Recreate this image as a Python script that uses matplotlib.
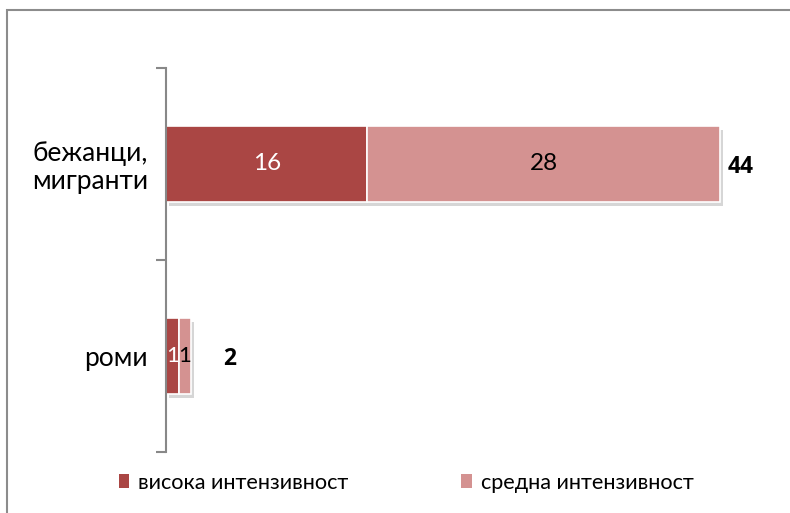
import matplotlib
matplotlib.use("Agg")
import matplotlib.pyplot as plt
import matplotlib.patheffects as pe
from matplotlib.patches import Rectangle

categories = ["бежанци,\nмигранти", "роми"]
series_names = ["висока интензивност", "средна интензивност"]
high = [16, 1]
medium = [28, 1]
totals = [h + m for h, m in zip(high, medium)]
colors = ["#AA4644", "#D49291"]
label_colors = ["white", "black"]
total_offsets = [8, 32]  # pixel offsets of total labels

plt.rcParams['font.family'] = ['Lato', 'DejaVu Sans']

fig = plt.figure(figsize=(7.9, 5.13), dpi=100)
ax = fig.add_axes([166/790, 1-452/513, (745-166)/790, (452-68)/513])

ypos = list(range(len(categories)))
shadow = [pe.SimplePatchShadow(offset=(2, -3), shadow_rgbFace="#999999", alpha=0.4), pe.Normal()]
left = [0]*len(categories)
for vals, col, lc, name in zip([high, medium], colors, label_colors, series_names):
    bars = ax.barh(ypos, vals, left=left, height=0.395, color=col, edgecolor="white",
                   linewidth=1.2, label=name)
    for b in bars:
        b.set_path_effects(shadow)
    for y, v, l in zip(ypos, vals, left):
        ax.text(l + v/2, y, str(v), ha="center", va="center", color=lc,
                fontsize=17.5 if v > 1 else 16)
    left = [l + v for l, v in zip(left, vals)]

for y, t, off in zip(ypos, totals, total_offsets):
    ax.annotate(str(t), (t, y), xytext=(off*0.72, -2), textcoords="offset points",
                ha="left", va="center", fontsize=16.5, fontweight="bold", color="black",
                family=["Open Sans", "DejaVu Sans"])

ax.set_xlim(0, 46)
ax.set_ylim(len(categories)-0.5, -0.5)
ax.set_yticks(ypos)
ax.set_yticklabels(categories, fontsize=19, linespacing=1.1)
ax.tick_params(axis="y", which="major", length=0, pad=13)
ax.set_yticks([-0.5, 0.5, 1.5], minor=True)
ax.tick_params(axis="y", which="minor", length=7, width=1.5, color="#888888", direction="out")
ax.set_xticks([])
for s in ["top", "right", "bottom"]:
    ax.spines[s].set_visible(False)
ax.spines["left"].set_color("#888888")
ax.spines["left"].set_linewidth(1.5)

handles, labels = ax.get_legend_handles_labels()
leg = fig.legend(handles, labels, loc="center", bbox_to_anchor=(406/790, 1-483/513), ncol=2,
                 frameon=False, fontsize=15.6, handlelength=0.5, handleheight=0.6,
                 handletextpad=0.4, columnspacing=5.2)
for h in leg.legend_handles:
    h.set_path_effects([])
    h.set_edgecolor("none")

fig.patches.append(Rectangle((7/790, -0.1), 1.2, 1 - 9.5/513 + 0.1, transform=fig.transFigure,
                             fill=False, edgecolor="#8C8C8C", linewidth=1.5))

fig.savefig("out.png", dpi=100)
